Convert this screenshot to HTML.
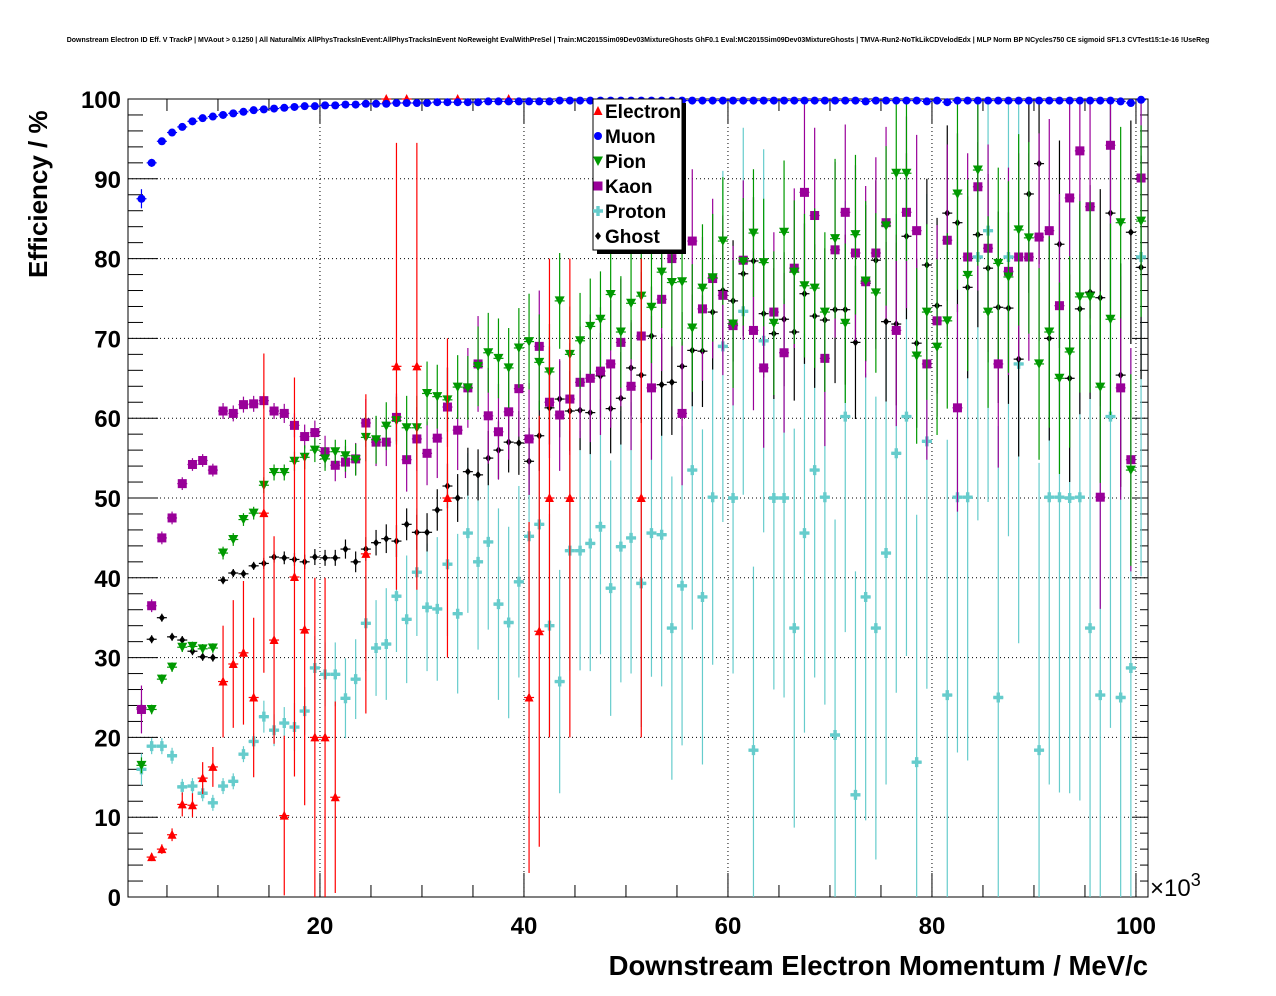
<!DOCTYPE html>
<html><head><meta charset="utf-8"><style>
html,body{margin:0;padding:0;background:#fff;}
svg{display:block;font-family:"Liberation Sans",sans-serif;}
</style></head><body>
<svg id="chart" width="1276" height="996" viewBox="0 0 1276 996" xmlns="http://www.w3.org/2000/svg">
<rect x="0" y="0" width="1276" height="996" fill="#fff"/>
<text x="638" y="42" text-anchor="middle" font-size="7" font-weight="bold">Downstream Electron ID Eff. V TrackP | MVAout &gt; 0.1250 | All NaturalMix AllPhysTracksInEvent:AllPhysTracksInEvent NoReweight EvalWithPreSel | Train:MC2015Sim09Dev03MixtureGhosts GhF0.1 Eval:MC2015Sim09Dev03MixtureGhosts | TMVA-Run2-NoTkLikCDVelodEdx | MLP Norm BP NCycles750 CE sigmoid SF1.3 CVTest15:1e-16 !UseReg</text>
<g id="grid"></g>
<g id="axes"></g>
<g id="series"></g>
<text x="1148" y="975" text-anchor="end" font-size="27.5" font-weight="bold">Downstream Electron Momentum / MeV/c</text>
<text transform="translate(47,278) rotate(-90)" x="0" y="0" font-size="26" font-weight="bold">Efficiency / %</text>
<text x="1150" y="896" font-size="24">×10<tspan dy="-10" font-size="18">3</tspan></text>
<g id="legend">
<rect x="597" y="103" width="89" height="151" fill="#000"/>
<rect x="593" y="99" width="89" height="151" fill="#fff" stroke="#000" stroke-width="1"/>
</g>
</svg>
<script>
var categories = [];
for (var k = 0; k < 99; k++) categories.push(2.5 + k);
var N = null;
var electronVals = [N,5.0,6.0,7.8,11.6,11.5,14.9,16.3,27,29.2,30.6,25,48.1,32.2,10.2,40.1,33.5,20,20,12.5,N,N,43,N,100,66.5,100,66.5,N,N,50,100,N,N,N,N,100,N,25,33.3,50,N,50,N,N,N,N,N,N,50,N,N,N,N,N,N,N,N,N,N,N,N,N,N,N,N,N,N,N,N,N,N,N,N,N,N,N,N,N,N,N,N,N,N,N,N,N,N,N,N,N,N,N,N,N,N,N,N,N];
var electronErr = [0,0.5,0.6,0.8,1.5,1.5,2,2.5,7,8,9,10,20,13,10,25,22,20,20,12,0,0,20,0,0,28,0,28,0,0,20,0,0,0,0,0,0,0,22,27,30,0,30,0,0,0,0,0,0,30,0,0,0,0,0,0,0,0,0,0,0,0,0,0,0,0,0,0,0,0,0,0,0,0,0,0,0,0,0,0,0,0,0,0,0,0,0,0,0,0,0,0,0,0,0,0,0,0,0];
var muonVals = [87.5,92,94.7,95.8,96.5,97.2,97.6,97.8,98,98.2,98.4,98.6,98.7,98.8,98.9,99,99.1,99.1,99.2,99.2,99.3,99.3,99.4,99.4,99.4,99.5,99.5,99.5,99.5,99.6,99.6,99.6,99.6,99.6,99.7,99.7,99.7,99.7,99.7,99.7,99.7,99.8,99.8,99.8,99.8,99.8,99.8,99.8,99.8,99.8,99.8,99.8,99.8,99.8,99.8,99.8,99.8,99.8,99.8,99.8,99.8,99.8,99.8,99.8,99.8,99.8,99.8,99.8,99.8,99.8,99.8,99.7,99.8,99.8,99.8,99.8,99.8,99.7,99.8,99.6,99.8,99.8,99.8,99.8,99.8,99.8,99.8,99.8,99.8,99.8,99.8,99.8,99.8,99.8,99.8,99.8,99.7,99.5,99.9];
var muonErr = [1.2,0.5,0.4,0.4,0.3,0.3,0.3,0.3,0.3,0.3,0.3,0.3,0.3,0.3,0.3,0.3,0.3,0.3,0.3,0.3,0.3,0.3,0.3,0.3,0.3,0.3,0.3,0.3,0.3,0.3,0.3,0.3,0.3,0.3,0.3,0.3,0.3,0.3,0.3,0.3,0.3,0.3,0.3,0.3,0.3,0.3,0.3,0.3,0.3,0.3,0.3,0.3,0.3,0.3,0.3,0.3,0.3,0.3,0.3,0.3,0.3,0.3,0.3,0.3,0.3,0.3,0.3,0.3,0.3,0.3,0.3,0.3,0.3,0.3,0.3,0.3,0.3,0.3,0.3,0.3,0.3,0.3,0.3,0.3,0.3,0.3,0.3,0.3,0.3,0.3,0.3,0.3,0.3,0.3,0.3,0.3,0.3,0.4,0.3];
var pionVals = [16.5,23.5,27.3,28.8,31.3,31.4,31.1,31.2,43.1,44.8,47.3,48.1,51.6,53.2,53.2,54.6,55.1,56,54.9,55.8,55.3,54.8,57.6,57.3,59,59.7,58.8,58.8,63.1,62.7,62.3,63.9,63.8,66.5,68.2,67.5,66.3,68.8,69.6,67,65.8,74.7,68,69.7,71.5,72.4,75.5,70.8,74.4,75.3,73.9,78.3,77,77.1,71.3,76.3,77.6,82.2,71.8,79.6,83.2,79.5,71.9,83.3,78.3,76.6,76.3,73.3,82.5,71.9,83,77.2,75.7,84.1,90.7,90.7,67.8,73.3,68.9,72.2,88.1,77.9,91.1,73.3,79.4,77.7,83.6,82.6,66.8,70.8,65,68.3,75.2,75.2,63.9,72.4,84.5,53.5,84.7];
var pionErr = [1,0.6,0.6,0.6,0.6,0.6,0.6,0.6,0.8,0.8,0.8,0.8,1,1,1,1.2,1.5,1.5,1.5,1.5,2,2,3,3,3,3,4,4,4,4,4,4,4,5,5,5,5,5,6,6,6,6,6,6,6,6,7,7,7,7,7,7,8,8,8,8,8,8,8,8,8,8,9,9,9,9,10,10,10,10,10,10,10,10,11,11,11,11,11,11,12,12,12,12,12,12,12,12,12,12,12,12,12,12,12,12,12,12,12];
var kaonVals = [23.5,36.5,45,47.5,51.8,54.2,54.7,53.5,60.9,60.6,61.7,61.8,62.2,60.9,60.6,59.1,57.7,58.2,55.8,54.1,54.5,54.9,59.4,57,57,60.1,54.8,57.4,55.6,57.5,61.4,58.5,63.8,66.8,60.3,58.3,60.8,63.7,57.4,69,62,60.4,62.4,64.5,65,65.9,66.8,69.5,64,70.3,63.8,74.9,80,60.6,82.2,73.7,77.5,75.4,71.6,79.8,71,66.3,73.3,68.2,78.8,88.3,85.4,67.5,81.1,85.8,80.7,77.1,80.7,84.5,71,85.8,83.5,66.8,72.2,82.3,61.3,80.2,89,81.3,66.8,78.4,80.2,80.2,82.7,83.5,74.1,87.6,93.5,86.5,50.1,94.2,63.8,54.8,90.1];
var kaonErr = [3,0.8,0.8,0.8,0.8,0.8,0.8,0.8,1,1,1,1,1,1,1.2,1.5,1.5,1.5,2,2,2,2,3,3,3,3,4,4,4,5,5,5,5,6,6,6,6,6,7,7,7,7,7,7,8,8,8,8,8,8,9,9,9,9,9,9,10,10,10,10,10,10,10,10,10,11,11,11,11,11,11,12,12,12,12,12,12,12,12,12,13,13,13,13,13,13,13,13,13,14,14,14,14,14,14,14,14,14,14];
var protonVals = [16,18.9,18.9,17.7,13.8,13.9,13,11.8,13.9,14.5,17.9,19.5,22.6,20.9,21.8,21.3,23.3,28.7,27.9,27.9,24.9,27.3,34.3,31.2,31.7,37.7,34.8,40.7,36.3,36.1,41.7,35.5,45.6,42,44.5,36.7,34.4,39.5,45.2,46.7,34,27,43.4,43.4,44.3,46.4,38.7,43.9,45,39.3,45.6,45.4,33.7,39,53.5,37.6,50.1,69,50,73.4,18.4,69.7,50,50,33.7,45.6,53.5,50.1,20.3,60.2,12.8,37.6,33.7,43.1,55.6,60.2,16.9,57.1,N,25.3,50.1,50.1,80.2,83.5,25,80.2,66.8,N,18.4,50.1,50.1,50,50.1,33.7,25.3,60.2,25,28.7,80.2];
var protonErr = [2,1,1,1,1,1,1,1,1,1,1,1,2,2,2,3,3,4,4,4,5,5,6,6,7,7,8,8,8,9,9,10,10,11,11,12,12,12,13,13,14,14,15,15,16,16,16,17,17,18,18,19,19,20,20,21,21,22,22,23,23,24,24,25,25,25,26,26,27,27,28,28,29,29,30,30,31,31,0,32,32,33,33,34,34,35,35,0,36,36,37,37,38,38,39,39,40,40,40];
var ghostErr = [1,0.5,0.5,0.5,0.5,0.5,0.5,0.5,0.5,0.5,0.5,0.5,0.7,0.7,0.8,0.8,0.9,1,1,1,1.2,1.3,1.5,1.6,1.8,2,2,2.2,2.4,2.6,2.8,3,3,3.2,3.4,3.6,3.8,4,4.2,4.4,4.6,4.8,5,5,5.2,5.4,5.6,5.8,6,6,6.2,6.4,6.6,6.8,7,7,7.2,7.4,7.6,7.8,8,8,8.2,8.4,8.6,8.8,9,9,9.2,9.4,9.6,9.8,10,10,10.2,10.4,10.6,10.8,11,11,11.2,11.4,11.6,11.8,12,12,12.2,12.4,12.6,12.8,13,13,13.2,13.4,13.6,13.8,14,14,14];
var ghostVals = [23.7,32.3,35,32.6,32.2,30.8,30.1,30,39.7,40.6,40.5,41.5,41.8,42.6,42.5,42.3,42,42.6,42.5,42.5,43.6,42,43.6,44.4,44.9,44.6,46.7,45.7,45.7,48.5,51.5,50,53.3,52.9,55,56,57,56.9,54.6,57.8,61.3,62.4,60.9,61,60.7,65.3,61.2,62.5,66.3,65.4,70.3,64.2,64.5,66.5,68.5,68.4,73.3,76,74.7,78.1,79.7,73.1,70.6,72.4,70.8,75.6,72.8,72.3,73.6,73.6,69.5,76.9,79.8,72.1,71.8,82.8,69.4,79.2,74.1,85.7,84.5,76.4,83,78.8,73.9,73.8,67.4,88.1,91.9,70,81.8,65,73.7,75.8,75.1,85.7,65.4,83.3,78.9];
var xTicks = [20,40,60,80,100];
var yTicks = [0,10,20,30,40,50,60,70,80,90,100];

var NS = 'http://www.w3.org/2000/svg';
var L = 128, R = 1148, T = 99, B = 897;
var xMin = 1.18, xMax = 101.18, yMin = 0, yMax = 100;
function sx(v){ return L + (v - xMin) / (xMax - xMin) * (R - L); }
function sy(v){ return B - (v - yMin) / (yMax - yMin) * (B - T); }
function mk(tag, attrs, parent){
  var e = document.createElementNS(NS, tag);
  for (var a in attrs) e.setAttribute(a, attrs[a]);
  parent.appendChild(e);
  return e;
}
var grid = document.getElementById('grid');
var axes = document.getElementById('axes');
var series = document.getElementById('series');

xTicks.forEach(function(t){
  if (t < xMax - 1) {
    var g = mk('line', {x1:sx(t), x2:sx(t), y1:T, y2:B, stroke:'#000', 'stroke-width':1, 'stroke-dasharray':'1,3'}, grid);
    
    
  }
});
yTicks.forEach(function(t){
  if (t > 0 && t < 100) {
    var g = mk('line', {x1:L, x2:R, y1:sy(t), y2:sy(t), stroke:'#000', 'stroke-width':1, 'stroke-dasharray':'1,3'}, grid);
    
    
  }
});

var frame = mk('rect', {x:L, y:T, width:R-L, height:B-T, fill:'none', stroke:'#000', 'stroke-width':1}, axes);



for (var v = 0; v <= 100; v += 2) {
  var major = (v % 10 === 0);
  var len = major ? 30 : 15;
  var tl = mk('line', {x1:L, x2:L+len, y1:sy(v), y2:sy(v), stroke:'#000', 'stroke-width':1}, axes);
  
  
  var tr = mk('line', {x1:R, x2:R-(major?15:8), y1:sy(v), y2:sy(v), stroke:'#000', 'stroke-width':1}, axes);
  
  
}
yTicks.forEach(function(t){
  var lb = mk('text', {x:121, y:sy(t)+9, 'text-anchor':'end', 'font-size':24, 'font-weight':'bold'}, axes);
  lb.textContent = t;
  
  
});
for (var xv = 5; xv <= 100; xv += 5) {
  var mj = (xv % 20 === 0);
  var bl = mk('line', {x1:sx(xv), x2:sx(xv), y1:B, y2:B-(mj?24:12), stroke:'#000', 'stroke-width':1}, axes);
  
  
  var tt = mk('line', {x1:sx(xv), x2:sx(xv), y1:T, y2:T+(mj?24:12), stroke:'#000', 'stroke-width':1}, axes);
  
  
}
xTicks.forEach(function(t){
  var lb = mk('text', {x:sx(t), y:934, 'text-anchor':'middle', 'font-size':24, 'font-weight':'bold'}, axes);
  lb.textContent = t;
  
  
});

function marker(kind, color, x, y, parent){
  var m;
  if (kind === 'tri-up') m = mk('polygon', {points:(x-4.5)+','+(y+4)+' '+(x+4.5)+','+(y+4)+' '+x+','+(y-5), fill:color}, parent);
  else if (kind === 'circle') m = mk('circle', {cx:x, cy:y, r:4, fill:color}, parent);
  else if (kind === 'tri-down') m = mk('polygon', {points:(x-5)+','+(y-4.5)+' '+(x+5)+','+(y-4.5)+' '+x+','+(y+5), fill:color}, parent);
  else if (kind === 'square') m = mk('rect', {x:x-4.5, y:y-4.5, width:9, height:9, fill:color}, parent);
  else if (kind === 'cross') m = mk('path', {d:'M'+(x-5)+' '+(y-1.7)+'h3.3v-3.3h3.4v3.3h3.3v3.4h-3.3v3.3h-3.4v-3.3h-3.3z', fill:color}, parent);
  else m = mk('path', {d:'M'+x+' '+(y-4)+'L'+(x+3)+' '+y+'L'+x+' '+(y+4)+'L'+(x-3)+' '+y+'z', fill:color}, parent);
  return m;
}

function drawSeries(name, vals, errs, color, kind){
  var g = mk('g', {}, series);
  
  
  for (var i = 0; i < vals.length; i++) {
    var v = vals[i];
    if (v === null) continue;
    var e = errs[i];
    var x = sx(categories[i]), y = sy(v);
    var y1 = sy(Math.min(100, v + e)), y2 = sy(Math.max(0, v - e));
    if (y2 - y1 > 1) {
      var eb = mk('line', {x1:x, x2:x, y1:y1, y2:y2, stroke:color, 'stroke-width':1.2}, g);
      
      
    }
    var hb = mk('line', {x1:x-5, x2:x+5, y1:y, y2:y, stroke:color, 'stroke-width':1.2}, g);
    
    
    var m = marker(kind, color, x, y, g);
    
    
  }
}
drawSeries('proton', protonVals, protonErr, '#66cccc', 'cross');
drawSeries('ghost', ghostVals, ghostErr, '#000000', 'diamond');
drawSeries('kaon', kaonVals, kaonErr, '#990099', 'square');
drawSeries('pion', pionVals, pionErr, '#009900', 'tri-down');
drawSeries('electron', electronVals, electronErr, '#ff0000', 'tri-up');
drawSeries('muon', muonVals, muonErr, '#0000ff', 'circle');

var legend = document.getElementById('legend');
document.getElementById('chart').appendChild(legend);
var legNames = ['Electron','Muon','Pion','Kaon','Proton','Ghost'];
var legColors = ['#ff0000','#0000ff','#009900','#990099','#66cccc','#000000'];
var legKinds = ['tri-up','circle','tri-down','square','cross','diamond'];
for (var j = 0; j < legNames.length; j++) {
  var yy = 111 + j * 25;
  var mm = marker(legKinds[j], legColors[j], 598, yy, legend);
  
  
  var tx = mk('text', {x:605, y:yy+7, 'font-size':19, 'font-weight':'bold'}, legend);
  tx.textContent = legNames[j];
  
  
}
</script>
</body></html>
